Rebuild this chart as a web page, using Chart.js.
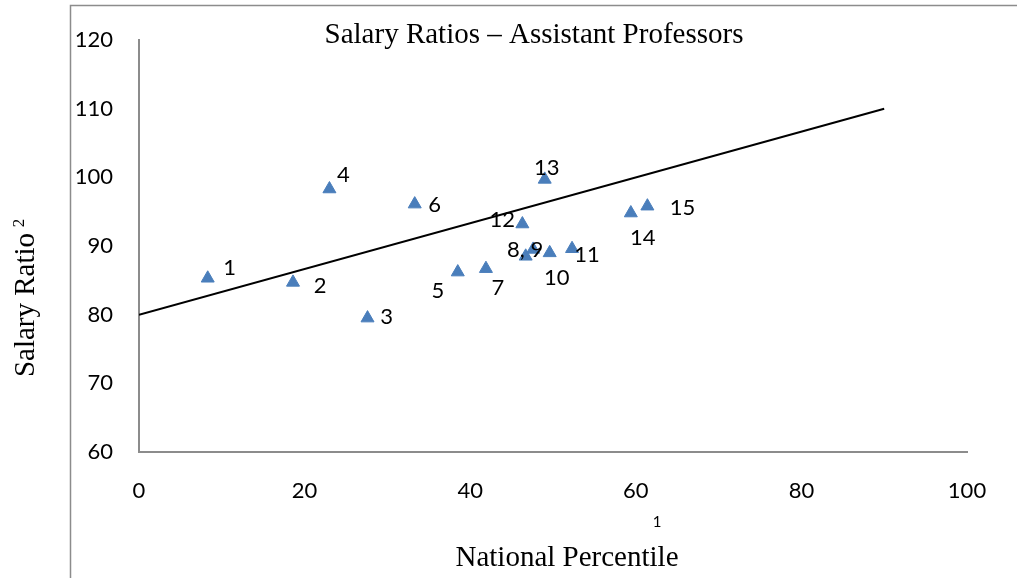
<!DOCTYPE html>
<html><head><meta charset="utf-8">
<script src="https://cdn.jsdelivr.net/npm/chart.js@4/dist/chart.umd.min.js"></script>
<style>html,body{margin:0;padding:0;background:#fff}#wrap{width:1017px;height:578px;position:relative}</style>
</head><body><div id="wrap"><canvas id="c" width="1017" height="578"></canvas></div>
<script>
const pointLabels = ["1","2","3","4","5","6","7","8","9","10","11","12","13","14","15"];
const percentile = [8.3, 18.6, 27.6, 23.0, 38.5, 33.3, 41.9, 46.7, 47.6, 49.6, 52.3, 46.3, 49.0, 59.4, 61.4];
const salaryRatio = [85.3, 84.7, 79.5, 98.3, 86.2, 96.1, 86.7, 88.5, 89.5, 89.0, 89.6, 93.2, 99.7, 94.8, 95.8];
const trendX = [0, 90];
const trendY = [80, 110];
const xTicks = [0, 20, 40, 60, 80, 100];
const yTicks = [60, 70, 80, 90, 100, 110, 120];
// label offsets in px (dx, dy) relative to each point; "8" and "9" share one label
const labelText = ["1","2","3","4","5","6","7","","8, 9","10","11","12","13","14","15"];
const labelOffsets = [[22,-10],[27,4],[19,-1],[14,-14],[-20,19],[20,1],[12,19],[0,0],[-8,0],[7,25],[15,6],[-20,-4],[2,-11],[12,25],[35,2]];

const tickFont = {family: 'Lato, "Open Sans", sans-serif', size: 22};

const decor = {
  id: 'decor',
  afterDraw(chart) {
    const ctx = chart.ctx;
    ctx.save();
    ctx.strokeStyle = '#8c8c8c';
    ctx.lineWidth = 1.5;
    ctx.beginPath();
    ctx.moveTo(70.5, 578); ctx.lineTo(70.5, 5.5); ctx.lineTo(1017, 5.5);
    ctx.stroke();
    // point labels
    const meta = chart.getDatasetMeta(0);
    ctx.fillStyle = '#000';
    ctx.font = '22px Lato, "Open Sans", sans-serif';
    ctx.textAlign = 'center'; ctx.textBaseline = 'middle';
    meta.data.forEach((el, i) => {
      if (!labelText[i]) return;
      ctx.fillText(labelText[i], el.x + labelOffsets[i][0], el.y + labelOffsets[i][1]);
    });
    // title
    ctx.font = '29px "Liberation Serif", "Times New Roman", serif';
    ctx.fillText('Salary Ratios \u2013 Assistant Professors', 534, 35);
    // x title
    ctx.fillText('National Percentile', 567, 558);
    ctx.font = '15px Lato, "Open Sans", sans-serif';
    ctx.fillText('1', 657, 522);
    // y title
    ctx.save();
    ctx.translate(26, 305);
    ctx.rotate(-Math.PI/2);
    ctx.font = '29px "Liberation Serif", "Times New Roman", serif';
    ctx.textAlign = 'center';
    ctx.fillText('Salary Ratio', 0, 0);
    ctx.font = '17px "Liberation Serif", serif';
    ctx.fillText('2', 82, -6);
    ctx.restore();
    ctx.restore();
  }
};

new Chart(document.getElementById('c'), {
  type: 'scatter',
  data: {
    datasets: [
      {
        data: percentile.map((x, i) => ({x, y: salaryRatio[i]})),
        pointStyle: 'triangle',
        radius: 7.5,
        hoverRadius: 7.5,
        backgroundColor: '#4a7ebb',
        borderColor: '#4a7ebb',
        borderWidth: 1
      },
      {
        type: 'line',
        data: trendX.map((x, i) => ({x, y: trendY[i]})),
        borderColor: '#000',
        borderWidth: 2,
        pointRadius: 0,
        fill: false
      }
    ]
  },
  options: {
    responsive: false,
    animation: false,
    events: [],
    layout: {padding: {top: 40, right: 50, left: 0, bottom: 0}},
    plugins: {legend: {display: false}, tooltip: {enabled: false}, title: {display: false}},
    scales: {
      x: {
        type: 'linear', min: 0, max: 100,
        afterBuildTicks: s => { s.ticks = xTicks.map(v => ({value: v})); },
        afterFit: s => { s.height = 578 - 452; },
        grid: {display: false, drawTicks: false},
        border: {color: '#8c8c8c', width: 2},
        ticks: {font: tickFont, color: '#000', padding: 26, maxRotation: 0}
      },
      y: {
        type: 'linear', min: 60, max: 120,
        afterBuildTicks: s => { s.ticks = yTicks.map(v => ({value: v})); },
        afterFit: s => { s.width = 139; },
        grid: {display: false, drawTicks: false},
        border: {color: '#8c8c8c', width: 2},
        ticks: {font: tickFont, color: '#000', padding: 26}
      }
    }
  },
  plugins: [decor]
});
</script></body></html>
